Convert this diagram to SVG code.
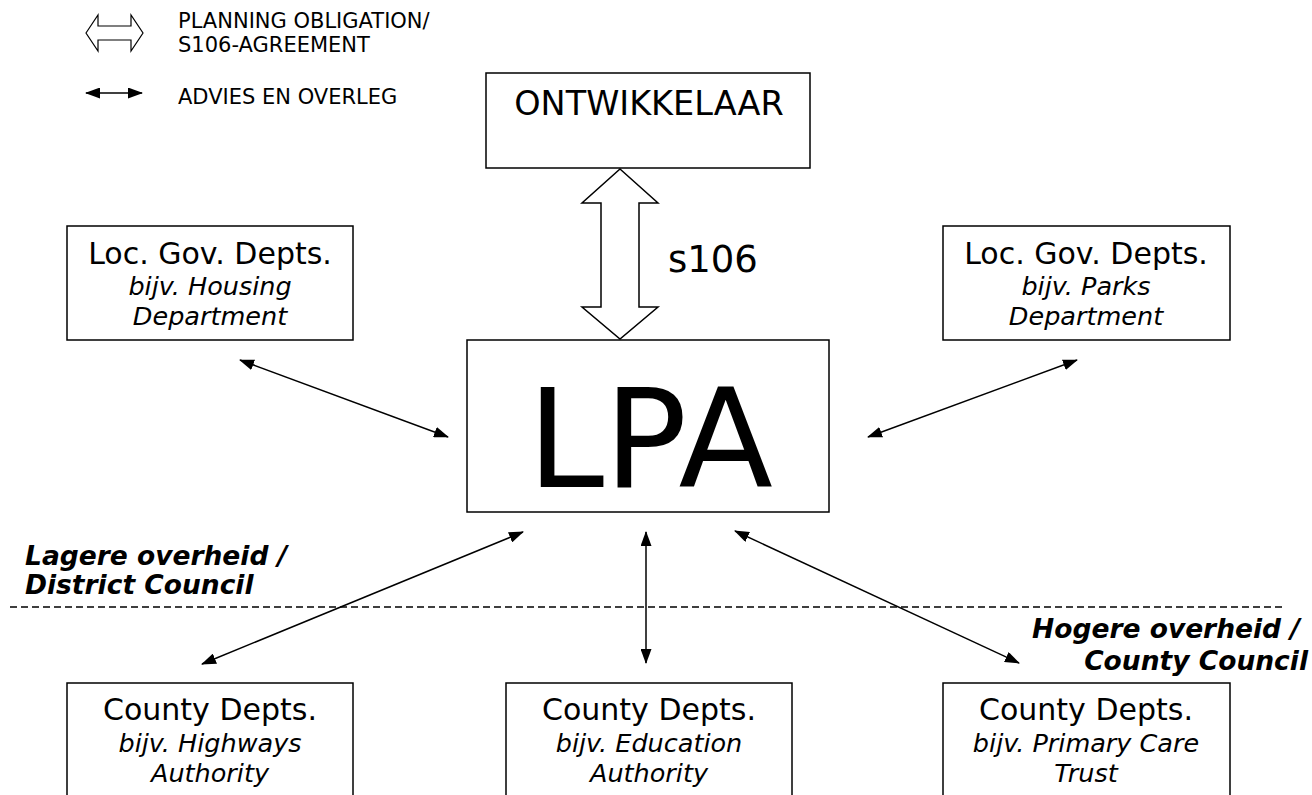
<svg xmlns="http://www.w3.org/2000/svg" width="1312" height="795" viewBox="0 0 1312 795">
<style>
text{font-family:"DejaVu Sans",Verdana,sans-serif;fill:#000}
.box{fill:#fff;stroke:#000;stroke-width:1.5}
.t{font-size:30px;text-anchor:middle}
.i{font-size:25.5px;font-style:italic;text-anchor:middle}
.lg{font-size:21px}
.lv{font-size:26.5px;font-weight:bold;font-style:italic}
.con{stroke:#000;stroke-width:1.5;fill:none;marker-start:url(#ah);marker-end:url(#ah)}
</style>
<defs>
<marker id="ah" markerUnits="userSpaceOnUse" markerWidth="15" markerHeight="11" refX="14" refY="5.5" orient="auto-start-reverse" viewBox="0 0 15 11">
<path d="M0,0 L15,5.5 L0,11 z" fill="#000"/>
</marker>
</defs>
<rect width="1312" height="795" fill="#fff"/>

<g id="legend">
<polygon points="86,33 98,15 98,26 131,26 131,15 143,33 131,51 131,40 98,40 98,51" fill="#fff" stroke="#000" stroke-width="1.2"/>
<line x1="86" y1="93" x2="142" y2="93" class="con"/>
<text class="lg" x="178" y="28">PLANNING OBLIGATION/</text>
<text class="lg" x="178" y="52">S106-AGREEMENT</text>
<text class="lg" x="178" y="104">ADVIES EN OVERLEG</text>
</g>

<g id="levels">
<line x1="10" y1="607" x2="1285" y2="607" stroke="#000" stroke-width="1.5" stroke-dasharray="7,4"/>
<text class="lv" x="25" y="565">Lagere overheid /</text>
<text class="lv" x="25" y="594">District Council</text>
<text class="lv" x="1300" y="638" text-anchor="end">Hogere overheid /</text>
<text class="lv" x="1308" y="670" text-anchor="end">County Council</text>
</g>

<g id="ontwikkelaar">
<rect class="box" x="486" y="73" width="324" height="95"/>
<text x="649" y="115" font-size="33.5" text-anchor="middle">ONTWIKKELAAR</text>
</g>

<g id="lpa">
<rect class="box" x="467" y="340" width="362" height="172"/>
<text x="650" y="487" font-size="138" text-anchor="middle">LPA</text>
</g>

<g id="loc-housing">
<rect class="box" x="67" y="226" width="286" height="114"/>
<text class="t" x="210" y="264">Loc. Gov. Depts.</text>
<text class="i" x="210" y="295">bijv. Housing</text>
<text class="i" x="210" y="325">Department</text>
</g>

<g id="loc-parks">
<rect class="box" x="943" y="226" width="287" height="114"/>
<text class="t" x="1086" y="264">Loc. Gov. Depts.</text>
<text class="i" x="1086" y="295">bijv. Parks</text>
<text class="i" x="1086" y="325">Department</text>
</g>

<g id="county-highways">
<rect class="box" x="67" y="683" width="286" height="150"/>
<text class="t" x="210" y="720">County Depts.</text>
<text class="i" x="210" y="752">bijv. Highways</text>
<text class="i" x="210" y="782">Authority</text>
</g>

<g id="county-education">
<rect class="box" x="506" y="683" width="286" height="150"/>
<text class="t" x="649" y="720">County Depts.</text>
<text class="i" x="649" y="752">bijv. Education</text>
<text class="i" x="649" y="782">Authority</text>
</g>

<g id="county-care">
<rect class="box" x="943" y="683" width="287" height="150"/>
<text class="t" x="1086" y="720">County Depts.</text>
<text class="i" x="1086" y="752">bijv. Primary Care</text>
<text class="i" x="1086" y="782">Trust</text>
</g>

<g id="connectors">
<polygon points="620,169 658,203 639,203 639,307 658,307 620,339 582,307 601,307 601,203 582,203" fill="#fff" stroke="#000" stroke-width="1.5"/>
<text x="668" y="272" font-size="37">s106</text>
<line class="con" x1="240" y1="360" x2="448" y2="437"/>
<line class="con" x1="1077" y1="360" x2="868" y2="437"/>
<line class="con" x1="523" y1="532" x2="202" y2="664"/>
<line class="con" x1="646" y1="532" x2="646" y2="663"/>
<line class="con" x1="735" y1="531" x2="1019" y2="663"/>
</g>
</svg>
